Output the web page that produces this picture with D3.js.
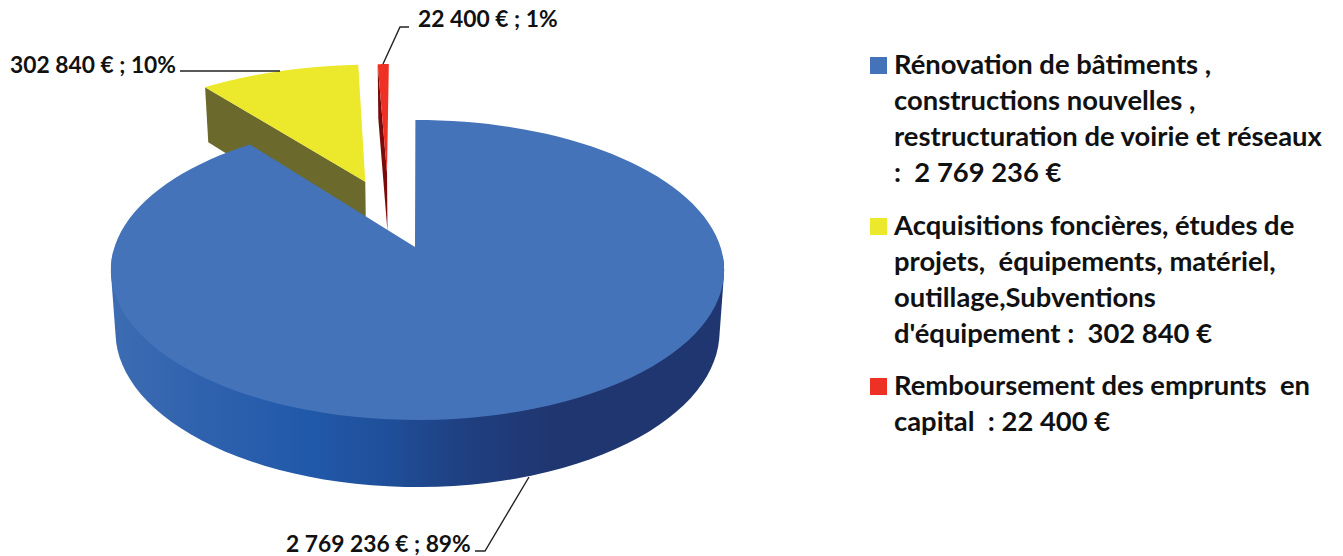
<!DOCTYPE html>
<html>
<head>
<meta charset="utf-8">
<script src="https://cdn.jsdelivr.net/npm/d3@7"></script>
<style>
  html, body { margin: 0; background: #fff; }
  text { font-family: Lato, "Open Sans", sans-serif; font-weight: 700; fill: #111; }
</style>
</head>
<body>
<div id="graph"></div>
<script>
const categories = ['Rénovation', 'Acquisitions', 'Remboursement'];
const values = [2769236, 302840, 22400];
const percents = ['89%', '10%', '1%'];
const colors = ['#4573b9', '#ece82c', '#ee3124'];
const wallColors = ['#2a5ba6', '#6b6a2c', '#7a0c0c'];
const legendLines = [
  ['Rénovation de bâtiments ,', 'constructions nouvelles ,', 'restructuration de voirie et réseaux', ':  2 769 236 €'],
  ['Acquisitions foncières, études de', 'projets,  équipements, matériel,', 'outillage,Subventions', "d'équipement :  302 840 €"],
  ['Remboursement des emprunts  en', 'capital  : 22 400 €']
];

const w = 1343;
const h = 556;

const svg = d3.select('#graph').append('svg')
  .attr('width', w).attr('height', h).style('display', 'block');

const frFormat = d3.formatLocale({ decimal: ',', thousands: ' ', grouping: [3], currency: ['', ' €'] }).format('$,d');

// perspective of the pie plane: unit circle -> screen
const cx = 417.5, cy = 247, persp = -0.1533;
const project = (u, v) => {
  const k = 1 + persp * v;
  return [cx + 303 * u / k, (cy + 108.6 * v) / k];
};
// the bottom of the pie is a little narrower and further down
const drop = ([x, y]) => [cx + (x - cx) * 0.985, y + 52 + 0.036 * y];

// how far each slice is pulled out, and its radius
const explode = [[0, 0], [-0.185, -0.4785], [-0.109, -0.545]];
const radius = [1, 1.06, 1];

const arcs = d3.pie().sort(null).value(d => d).startAngle(-0.008).endAngle(2 * Math.PI - 0.008)(values);
const line = d3.line();

const outer = (d, i) => {
  const n = 120;
  const [ou, ov] = explode[i];
  return d3.range(n + 1).map(k => {
    const a = d.startAngle + (d.endAngle - d.startAngle) * k / n;
    return project(ou + radius[i] * Math.sin(a), ov - radius[i] * Math.cos(a));
  });
};

const gradient = svg.append('defs').append('linearGradient')
  .attr('id', 'blueWall').attr('gradientUnits', 'userSpaceOnUse')
  .attr('x1', 111).attr('x2', 724).attr('y1', 0).attr('y2', 0);
[[0, '#3d6cb2'], [0.15, '#2f62ae'], [0.32, '#2159aa'], [0.45, '#1f4f9a'], [0.58, '#1f3f80'], [0.72, '#203670'], [1, '#203670']]
  .forEach(s => gradient.append('stop').attr('offset', s[0]).attr('stop-color', s[1]));

// back to front so the big slice hides the tips of the small ones
[2, 1, 0].forEach(i => {
  const d = arcs[i];
  const rim = outer(d, i);
  const apex = project(explode[i][0], explode[i][1]);
  const g = svg.append('g').attr('class', 'slice-' + categories[i]);

  if (i === 0) {
    apex[0] = 415; // tip sits a touch left of the ellipse centre
    // hull of the front half gives the rounded side of the cylinder
    const front = rim.filter(p => p[1] > 250);
    g.append('path')
      .attr('d', line(d3.polygonHull(front.concat(front.map(drop)))) + 'Z')
      .attr('fill', 'url(#blueWall)');
  } else {
    // cut face on the left side of the exploded slice
    g.append('path')
      .attr('d', line([apex, rim[0], drop(rim[0]), drop(apex)]) + 'Z')
      .attr('fill', wallColors[i]);
  }
  g.append('path')
    .attr('d', line([apex].concat(rim)) + 'Z')
    .attr('fill', colors[i]);
});

// data labels with their leaders
const labels = [
  { x: 286, y: 552, leader: [[529, 477], [485, 551], [475, 551]] },
  { x: 10, y: 73, leader: [[180, 71], [280, 71]] },
  { x: 418, y: 27, leader: [[383, 64], [400, 27], [409, 27]] }
];
labels.forEach((l, i) => {
  svg.append('path').attr('d', line(l.leader))
    .attr('fill', 'none').attr('stroke', '#222').attr('stroke-width', 1.4);
  svg.append('text').attr('x', l.x).attr('y', l.y)
    .style('font-size', '22.8px')
    .text(frFormat(values[i]) + ' ; ' + percents[i]);
});

// legend
const legendTop = [57, 218, 378];
legendLines.forEach((lines, i) => {
  svg.append('rect').attr('x', 870).attr('y', legendTop[i])
    .attr('width', 17).attr('height', 17).attr('fill', colors[i]);
  lines.forEach((t, j) => {
    svg.append('text').attr('x', 894).attr('y', legendTop[i] + 17 + j * 36)
      .style('font-size', '27.4px')
      .style('white-space', 'pre')
      .attr('xml:space', 'preserve')
      .text(t);
  });
});
</script>
</body>
</html>
